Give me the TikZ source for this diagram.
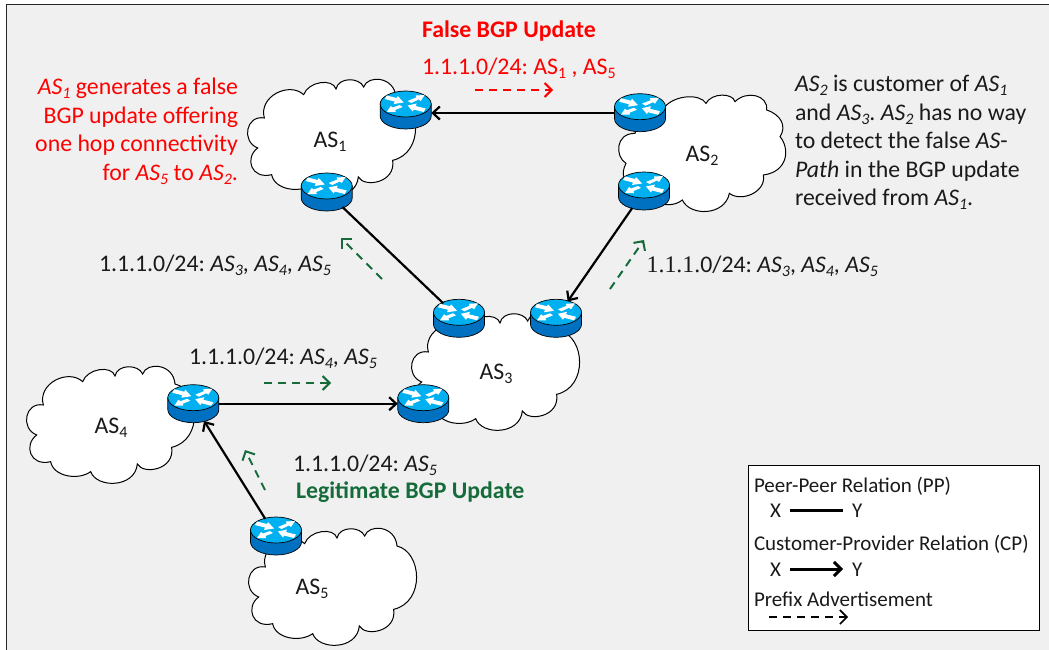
\documentclass[tikz,border=0pt]{standalone}
\usepackage{fontspec}
\setmainfont{Carlito}
\newfontfamily\serifnum{Liberation Serif}
\usetikzlibrary{calc,arrows.meta,shapes.geometric}
\definecolor{bgfill}{HTML}{F0F0F0}
\definecolor{rtop}{HTML}{00B0F0}
\definecolor{rside}{HTML}{0070C0}
\definecolor{lgreen}{HTML}{156B3A}
\definecolor{txt}{HTML}{1A1A1A}
\frenchspacing
\newcommand\subs[1]{\raisebox{-4pt}{\fontsize{16}{16}\selectfont #1}}
\newcommand\as[1]{\textit{AS\subs{#1}}}
\newcommand\asr[1]{AS\subs{#1}}
\newcommand\cloudpathA{
  (130,135) .. controls (112,70) and (205,25) .. (248,65)
  .. controls (262,25) and (335,15) .. (345,48)
  .. controls (352,12) and (415,12) .. (428,42)
  .. controls (440,5) and (520,10) .. (525,72)
  .. controls (600,90) and (610,240) .. (515,262)
  .. controls (525,330) and (430,345) .. (412,312)
  .. controls (405,385) and (290,385) .. (272,335)
  .. controls (235,362) and (160,350) .. (152,305)
  .. controls (90,320) and (70,255) .. (110,225)
  .. controls (60,205) and (75,125) .. (130,135) -- cycle}
\newcommand\cloudpathB{
  (195,80) .. controls (225,45) and (300,40) .. (318,70)
  .. controls (335,38) and (398,38) .. (405,65)
  .. controls (440,30) and (505,45) .. (500,90)
  .. controls (545,105) and (560,140) .. (540,170)
  .. controls (570,205) and (565,275) .. (490,285)
  .. controls (500,335) and (425,368) .. (388,340)
  .. controls (375,408) and (270,410) .. (247,360)
  .. controls (225,378) and (190,378) .. (170,365)
  .. controls (120,330) and (45,315) .. (78,250)
  .. controls (45,230) and (45,160) .. (105,160)
  .. controls (115,120) and (160,70) .. (195,80) -- cycle}
\newcommand\router[2]{%
  \begin{scope}[shift={(#2)}]
    \fill[rside,draw=black,line width=.7pt] (-25.5,0) -- (-25.5,12) arc[start angle=180,end angle=360,x radius=25.5,y radius=-13] -- (25.5,0) -- cycle;
    \fill[rtop,draw=black,line width=.7pt] (0,0) ellipse[x radius=25.5,y radius=13];
    \fill[white] (-19,-8.5) -- (-9,-6) -- (-8,-8) -- (-2,-1.5) -- (-12,0) -- (-11,-2.5) -- (-21,-5) -- cycle;
    \fill[white] (19,-9) -- (10,-8.5) -- (10.5,-6.5) -- (2,-3) -- (5.5,-1) -- (13,-4.5) -- (15,-3) -- cycle;
    \fill[white] (-19,8) -- (-10,8) -- (-10.5,6) -- (-3,3) -- (-6,1) -- (-13,3.5) -- (-15,2) -- cycle;
    \fill[white] (20,4.5) -- (10,2) -- (11,-0.5) -- (2,1.5) -- (7,7.5) -- (8,5.5) -- (18,8) -- cycle;
  \end{scope}
  \node[rnode] (#1) at ($(#2)+(0,6)$) {};}
\tikzset{
  rnode/.style={ellipse,minimum width=51pt,minimum height=38pt,inner sep=0,outer sep=0},
  cloudshape/.style={fill=white,draw=black,line width=1pt},
  peerline/.style={line width=2.2pt,draw=black},
  cpline/.style={line width=2.2pt,draw=black,-{Straight Barb[length=7pt,width=13pt,line width=2.2pt]}},
  advgreen/.style={line width=2pt,draw=lgreen,dash pattern=on 8pt off 6pt,-{Straight Barb[length=7pt,width=14pt,line width=2pt]}},
  advred/.style={line width=2pt,draw=red,dash pattern=on 8pt off 6pt,-{Straight Barb[length=7pt,width=14pt,line width=2pt]}},
  advblack/.style={line width=1.6pt,draw=black,dash pattern=on 8pt off 6pt,-{Straight Barb[length=7pt,width=14pt,line width=1.6pt]}},
  lab/.style={inner sep=0,outer sep=0,anchor=base west,text=txt,font=\fontsize{23.8}{28.5}\selectfont},
  legtext/.style={inner sep=0,outer sep=0,anchor=base west,text=txt,font=\fontsize{21}{24}\selectfont},
}
\begin{document}
\begin{tikzpicture}[x=1pt,y=-1pt]
\useasboundingbox (0,0) rectangle (1049,650);
\fill[white] (0,0) rectangle (1049,650);
\fill[bgfill] (6.5,4.5) rectangle (1049,650);
\draw[line width=1.2pt,black!85] (6.5,650) -- (6.5,4.5) -- (1049,4.5);
% clouds
\begin{scope}[shift={(0,360)},xscale=1/3,yscale=1/3]
  \draw[cloudshape] \cloudpathA;
\end{scope}
\begin{scope}[shift={(222,522)},xscale=1/3,yscale=1/3]
  \draw[cloudshape] \cloudpathA;
\end{scope}
\begin{scope}[shift={(221,73)},xscale=1/3,yscale=1/3]
  \draw[cloudshape] \cloudpathA;
\end{scope}
\begin{scope}[shift={(385,307)},xscale=1/3,yscale=1/3]
  \draw[cloudshape] \cloudpathA;
\end{scope}
\begin{scope}[shift={(600,80)},xscale=1/3,yscale=1/3]
  \draw[cloudshape] \cloudpathB;
\end{scope}
% routers
\router{ra}{405.7,104}
\router{rb}{326.7,186}
\router{rc}{640,106.7}
\router{rd}{644,185}
\router{re}{459,312.3}
\router{rf}{556,312.3}
\router{rg}{423.3,397.7}
\router{rh}{193.3,397.7}
\router{ri}{276,530}
% connectors
\draw[cpline] ($(rc.west)+(0,0.3)$) -- ($(ra.east)+(0,3)$);
\draw[peerline] (rb) -- (re);
\draw[cpline] (rd) -- (rf);
\draw[cpline] (rh.east) -- (rg.west);
\draw[cpline] (ri) -- (rh);
% cloud labels
\node[lab,anchor=center] (l1) at (330,142) {\asr{1}};
\node[lab,anchor=center] (l2) at (702,156) {\asr{2}};
\node[lab,anchor=center] (l3) at (496,374) {\asr{3}};
\node[lab,anchor=center] (l4) at (111,428) {\asr{4}};
\node[lab,anchor=center] (l5) at (312,589) {\asr{5}};
% texts
\node[lab,text=red,align=right,anchor=north east] (t1) at (238,78) {\as{1} generates a false\\BGP update offering\\one hop connectivity\\for \as{5} to \as{2}.};
\node[lab,align=left,anchor=north west] (t2) at (795,75.5) {\as{2} is customer of \as{1}\\and \as{3}. \as{2} has no way\\to detect the false \textit{AS}-\\\textit{Path} in the BGP update\\received from \as{1}.};
\node[lab,text=red,font=\fontsize{23.8}{28}\bfseries\selectfont] (t3) at (422,38) {False BGP Update};
\node[lab,text=red] (t4) at (422,75) {1.1.1.0/24: \asr{1} , \asr{5}};
\node[lab] (t5) at (99,271) {1.1.1.0/24: \as{3}, \as{4}, \as{5}};
\node[lab] (t6) at (646.7,272) {{\serifnum 1.1.1.}0/24: \as{3}, \as{4}, \as{5}};
\node[lab] (t7) at (189,364) {1.1.1.0/24: \as{4}, \as{5}};
\node[lab] (t8) at (293,471) {1.1.1.0/24: \as{5}};
\node[lab,text=lgreen,font=\fontsize{23.8}{28}\bfseries\selectfont] (t9) at (296,498) {Legitimate BGP Update};
% advert arrows
\coordinate (a1s) at (475,90); \coordinate (a1e) at (553,90);
\draw[advred] (a1s) -- (a1e);
\coordinate (a2s) at (382,279); \coordinate (a2e) at (341,238);
\draw[advgreen] (a2s) -- (a2e);
\coordinate (a3s) at (610,289); \coordinate (a3e) at (644,240);
\draw[advgreen] (a3s) -- (a3e);
\coordinate (a4s) at (264,383); \coordinate (a4e) at (331,383);
\draw[advgreen] (a4s) -- (a4e);
\coordinate (a5s) at (265,490); \coordinate (a5e) at (245,450);
\draw[advgreen] (a5s) -- (a5e);
% legend
\node[draw=black,line width=1.3pt,fill=white,inner sep=0,minimum width=291pt,minimum height=165pt,anchor=north west] (leg) at (748,464.5) {};
\node[legtext] (g1) at (754,492) {Peer-Peer Relation (PP)};
\node[legtext] (gx1) at (770,517) {X};
\node[legtext] (gy1) at (852,517) {Y};
\coordinate (gl1) at (790,510); \coordinate (gl2) at (843,510);
\draw[line width=3pt] (gl1) -- (gl2);
\node[legtext] (g2) at (754,550) {Customer-Provider Relation (CP)};
\node[legtext] (gx2) at (770,576) {X};
\node[legtext] (gy2) at (852,576) {Y};
\coordinate (gl3) at (790,569); \coordinate (gl4) at (843,569);
\draw[line width=3pt,-{Straight Barb[length=7pt,width=14pt,line width=3pt]}] (gl3) -- (gl4);
\node[legtext] (g3) at (754,606) {Prefix Advertisement};
\coordinate (g4s) at (769,617); \coordinate (g4e) at (848,617);
\draw[advblack] (g4s) -- (g4e);
\end{tikzpicture}
\end{document}
